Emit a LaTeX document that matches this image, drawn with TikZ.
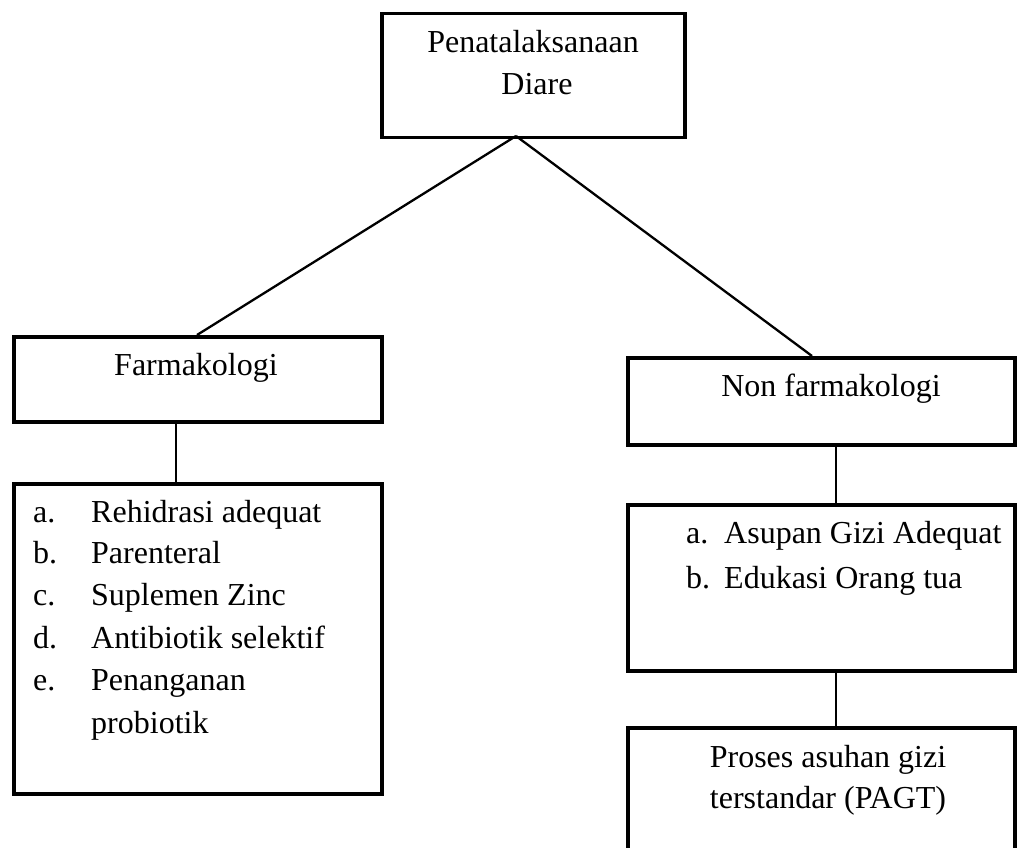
\documentclass[tikz,border=0pt]{standalone}
\usepackage{fontspec}
\setmainfont{Liberation Serif}
\usetikzlibrary{calc}
\begin{document}
\begin{tikzpicture}[x=1pt,y=-1pt,
  box/.style={draw, line width=3.5pt, inner sep=0pt, outer sep=1.75pt, anchor=north west, rectangle},
  conn/.style={draw, line width=2.3pt},
  txt/.style={inner sep=0pt, font=\fontsize{32}{42}\selectfont}]
\clip (0,0) rectangle (1017,848);
\useasboundingbox (0,0) rectangle (1017,848);
% boxes
\node[box, minimum width=303, minimum height=124] (top) at (380,12) {};
\node[box, minimum width=368, minimum height=85] (farm) at (12,335) {};
\node[box, minimum width=368, minimum height=310] (listL) at (12,482) {};
\node[box, minimum width=387, minimum height=87] (nonfarm) at (626,356) {};
\node[box, minimum width=387, minimum height=166] (listR) at (626,503) {};
\node[box, minimum width=387, minimum height=180] (pagt) at (626,726) {};
% texts
\node[txt, anchor=base] (t1) at (533,53) {Penatalaksanaan};
\node[txt, anchor=base] (t2) at (537,95) {Diare};
\node[txt, anchor=base] (t3) at (196,375) {Farmakologi};
\node[txt, anchor=base] (t4) at (831,396) {Non farmakologi};
\node[txt, anchor=base west] (la) at (33,522) {a.};
\node[txt, anchor=base west] (lb) at (33,563) {b.};
\node[txt, anchor=base west] (lc) at (33,605) {c.};
\node[txt, anchor=base west] (ld) at (33,648) {d.};
\node[txt, anchor=base west] (le) at (33,690) {e.};
\node[txt, anchor=base west] (ia) at (91,522) {Rehidrasi adequat};
\node[txt, anchor=base west] (ib) at (91,563) {Parenteral};
\node[txt, anchor=base west] (ic) at (91,605) {Suplemen Zinc};
\node[txt, anchor=base west] (id) at (91,648) {Antibiotik selektif};
\node[txt, anchor=base west] (ie) at (91,690) {Penanganan};
\node[txt, anchor=base west] (if) at (91,733) {probiotik};
\node[txt, anchor=base west] (ra) at (686,543) {a.};
\node[txt, anchor=base west] (rb) at (686,588) {b.};
\node[txt, anchor=base west] (rai) at (724,543) {Asupan Gizi Adequat};
\node[txt, anchor=base west] (rbi) at (724,588) {Edukasi Orang tua};
\node[txt, anchor=base] (p1) at (828,767) {Proses asuhan gizi};
\node[txt, anchor=base] (p2) at (828,808) {terstandar (PAGT)};
% connectors
\coordinate (apex) at (516,136);
\draw[conn] (apex) -- ($(farm.north west)+(185,0)$);
\draw[conn] (apex) -- ($(nonfarm.north west)+(186,0)$);
\draw[conn] ($(farm.south west)+(164,0)$) -- ($(listL.north west)+(164,0)$);
\draw[conn] ($(nonfarm.south west)+(210,0)$) -- ($(listR.north west)+(210,0)$);
\draw[conn] ($(listR.south west)+(210,0)$) -- ($(pagt.north west)+(210,0)$);
\end{tikzpicture}
\end{document}
